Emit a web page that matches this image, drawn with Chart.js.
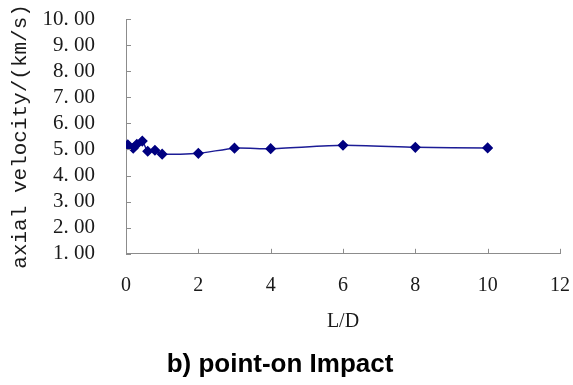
<!DOCTYPE html>
<html>
<head>
<meta charset="utf-8">
<script src="https://cdn.jsdelivr.net/npm/chart.js@4.4.1/dist/chart.umd.min.js"></script>
<style>
  html, body { margin: 0; padding: 0; background: #fff; }
  #wrap { width: 573px; height: 385px; }
</style>
</head>
<body>
<div id="wrap"><canvas id="velocity-chart"></canvas></div>
<script>
// L/D ratio and measured axial velocity (km/s)
var ldValues = [0.05, 0.2, 0.3, 0.45, 0.6, 0.8, 1, 2, 3, 4, 6, 8, 10];
var velocity = [5.18, 5.05, 5.2, 5.32, 4.93, 4.97, 4.82, 4.85, 5.05, 5.03, 5.16, 5.08, 5.06];

var xTicks = [0, 2, 4, 6, 8, 10, 12];
var yTicks = [1, 2, 3, 4, 5, 6, 7, 8, 9, 10];

var serif = "'Liberation Serif', 'DejaVu Serif', serif",
    axisColor = '#8c8c8c',
    textColor = '#1a1a1a',
    markColor = '#000080';

var points = ldValues.map(function (x, i) {
    return { x: x, y: velocity[i] };
});

// Excel style tick marks pointing into the plot
const innerTicks = {
    id: 'innerTicks',
    afterDraw(chart) {
        var ctx = chart.ctx,
            xs = chart.scales.x,
            ys = chart.scales.y,
            area = chart.chartArea;
        ctx.save();
        ctx.strokeStyle = axisColor;
        ctx.lineWidth = 1;
        ctx.beginPath();
        xTicks.forEach(function (t) {
            var px = Math.round(xs.getPixelForValue(t)) + 0.5;
            ctx.moveTo(px, area.bottom);
            ctx.lineTo(px, area.bottom - 5);
        });
        yTicks.forEach(function (t) {
            var py = Math.round(ys.getPixelForValue(t)) + 0.5;
            ctx.moveTo(area.left, py);
            ctx.lineTo(area.left + 5, py);
        });
        ctx.stroke();
        ctx.restore();
    }
};

// drop the extra room Chart.js keeps for edge labels
function noEdgePadding(scale) {
    scale.paddingTop = 0;
    scale.paddingBottom = 0;
    scale.paddingLeft = 0;
    scale.paddingRight = 0;
}

var chart = new Chart(document.getElementById('velocity-chart'), {
    type: 'scatter',
    data: {
        datasets: [{
            data: points,
            showLine: true,
            borderColor: '#1c1c96',
            borderWidth: 1.5,
            tension: 0.2,
            pointStyle: 'rectRot',
            pointRadius: 4.5,
            pointBackgroundColor: markColor,
            pointBorderColor: markColor
        }]
    },
    options: {
        responsive: true,
        maintainAspectRatio: false,
        animation: false,
        layout: {
            padding: { top: 19, right: 13, left: 0, bottom: 0 }
        },
        plugins: {
            legend: { display: false },
            tooltip: { enabled: false },
            title: {
                display: true,
                position: 'bottom',
                text: 'b) point-on Impact',
                color: '#000',
                font: { family: "'Liberation Sans', Arial, sans-serif", size: 26, weight: 'bold' },
                padding: { top: 10, bottom: 5 }
            }
        },
        scales: {
            x: {
                type: 'linear',
                min: 0,
                max: 12,
                afterBuildTicks: function (scale) {
                    scale.ticks = xTicks.map(function (v) { return { value: v }; });
                },
                afterFit: function (scale) {
                    scale.height = 85;
                    noEdgePadding(scale);
                },
                grid: { display: false, drawTicks: false },
                border: { display: true, color: axisColor, width: 1 },
                ticks: {
                    color: textColor,
                    padding: 20,
                    autoSkip: false,
                    maxRotation: 0,
                    font: { family: serif, size: 20 }
                },
                title: {
                    display: true,
                    text: 'L/D',
                    color: textColor,
                    font: { family: serif, size: 20 },
                    padding: { top: 0, bottom: 5 }
                }
            },
            y: {
                type: 'linear',
                min: 1,
                max: 10,
                afterBuildTicks: function (scale) {
                    scale.ticks = yTicks.map(function (v) { return { value: v }; });
                },
                afterFit: function (scale) {
                    scale.width = 126;
                    noEdgePadding(scale);
                },
                grid: { display: false, drawTicks: false },
                border: { display: true, color: axisColor, width: 1 },
                ticks: {
                    color: textColor,
                    padding: 31,
                    autoSkip: false,
                    font: { family: serif, size: 21 },
                    callback: function (v) {
                        return v.toFixed(2).replace('.', '. ');
                    }
                },
                title: {
                    display: true,
                    text: 'axial velocity/(km/s)',
                    color: textColor,
                    font: { family: "'Liberation Mono', 'DejaVu Sans Mono', monospace", size: 21 },
                    padding: { top: 8, bottom: 6 }
                }
            }
        }
    },
    plugins: [innerTicks]
});
</script>
</body>
</html>
